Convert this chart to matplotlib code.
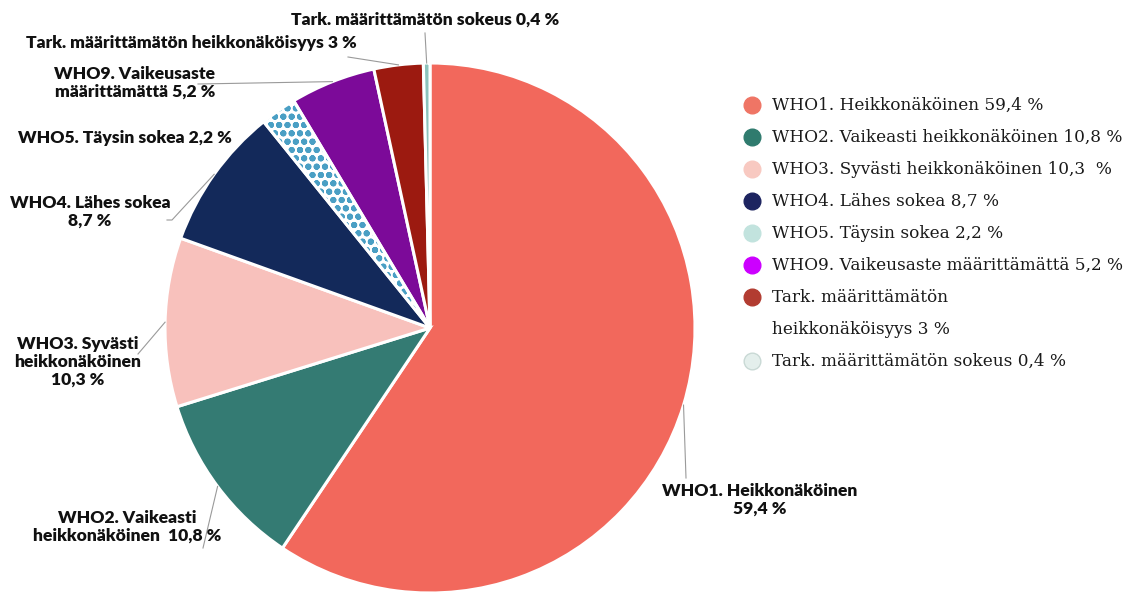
import numpy as np
import matplotlib.pyplot as plt
from matplotlib.patches import Wedge

plt.rcParams['hatch.linewidth'] = 2.0

# %% data
values = [59.4, 10.8, 10.3, 8.7, 2.2, 5.2, 3.0, 0.4]
pie_colors = ["#F2685C", "#347B73", "#F8C1BC", "#13295A", "#FFFFFF", "#7C0A99", "#9C1A10", "#FFFFFF"]
legend_colors = ["#EF7565", "#2F7B6E", "#F8C9C1", "#1D2460", "#C2E3DE", "#CC00FF", "#B23C31", "#E4EFEC"]
slice_labels = ["WHO1. Heikkonäköinen\n59,4 %",
                "WHO2. Vaikeasti\nheikkonäköinen  10,8 %",
                "WHO3. Syvästi\nheikkonäköinen\n10,3 %",
                "WHO4. Lähes sokea\n8,7 %",
                "WHO5. Täysin sokea 2,2 %",
                "WHO9. Vaikeusaste\nmäärittämättä 5,2 %",
                "Tark. määrittämätön heikkonäköisyys 3 %",
                "Tark. määrittämätön sokeus 0,4 %"]
legend_labels = ["WHO1. Heikkonäköinen 59,4 %",
                 "WHO2. Vaikeasti heikkonäköinen 10,8 %",
                 "WHO3. Syvästi heikkonäköinen 10,3  %",
                 "WHO4. Lähes sokea 8,7 %",
                 "WHO5. Täysin sokea 2,2 %",
                 "WHO9. Vaikeusaste määrittämättä 5,2 %",
                 "Tark. määrittämätön\nheikkonäköisyys 3 %",
                 "Tark. määrittämätön sokeus 0,4 %"]

# %% layout (pixels)
W, H = 1132, 593
CX, CY, R = 430, 328, 265
label_pos = [(760, 500), (127, 527), (78, 362), (90, 212), (125, 138), (135, 83), (191, 43), (425, 20)]
leader_ends = [[(686, 478)], [(203, 548)], [(138, 354)], [(167, 220), (172, 220)], None,
               [(198, 84)], [(348, 57)], [(425, 33)]]

fig = plt.figure(figsize=(W / 100, H / 100), dpi=100)
ax = fig.add_axes([(CX - R) / W, (H - CY - R) / H, 2 * R / W, 2 * R / H])
wedges, _ = ax.pie(values, colors=pie_colors, startangle=90, counterclock=False, radius=1,
                   wedgeprops=dict(edgecolor="white", linewidth=2.2))
ax.set_xlim(-1, 1)
ax.set_ylim(-1, 1)
ax.axis("off")

# patterned slices
for i, hcol, hatch in [(4, "#4A9FC4", "oo"), (7, "#8CC3BC", "------")]:
    w = wedges[i]
    w.set_facecolor("white")
    w.set_edgecolor(hcol)
    w.set_linewidth(0)
    w.set_hatch(hatch)
    ax.add_patch(Wedge((0, 0), 1, w.theta1, w.theta2, facecolor="none", edgecolor="white", linewidth=2.2))

lay = fig.add_axes([0, 0, 1, 1])
lay.set_xlim(0, W)
lay.set_ylim(H, 0)
lay.axis("off")
lay.patch.set_visible(False)

for w, txt, pos, ends in zip(wedges, slice_labels, label_pos, leader_ends):
    lay.text(pos[0], pos[1], txt, ha="center", va="center", fontsize=12.6, fontweight="heavy",
             family="Lato", color="#111111", linespacing=1.15)
    if ends is None:
        continue
    mid = np.deg2rad((w.theta1 + w.theta2) / 2)
    pts = ends + [(CX + R * np.cos(mid), CY - R * np.sin(mid))]
    lay.plot([p[0] for p in pts], [p[1] for p in pts], color="#9A9A9A", linewidth=0.8)

# legend
y = 105
for col, txt in zip(legend_colors, legend_labels):
    lay.plot(752, y, "o", markersize=12, color=col,
             markeredgecolor="#C9D9D5" if col == "#E4EFEC" else col)
    for line in txt.split("\n"):
        lay.text(772, y, line, ha="left", va="center", fontsize=12.2, family="DejaVu Serif",
                 color="#1A1A1A")
        y += 32

fig.savefig("out.png", dpi=100)
